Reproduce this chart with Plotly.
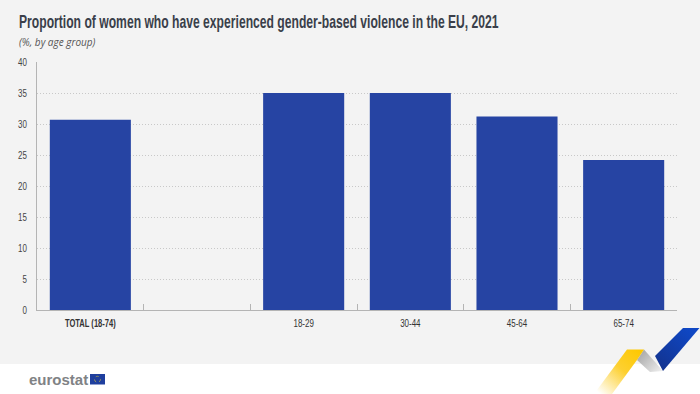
import base64
import plotly.graph_objects as go

categories = ["<b>TOTAL (18-74)</b>", " ", "18-29", "30-44", "45-64", "65-74"]
values = [30.7, None, 35.0, 35.0, 31.2, 24.2]
y_ticks = [0, 5, 10, 15, 20, 25, 30, 35, 40]
title_text = "Proportion of women who have experienced gender-based violence in the EU, 2021"
subtitle_text = "(%, by age group)"

W, H = 700, 394
PL, PR, PT, PB = 37, 677, 62, 310
FONT = "Liberation Sans, sans-serif"

ribbon = f'''<svg xmlns="http://www.w3.org/2000/svg" width="{W}" height="{H}" viewBox="0 0 {W} {H}">
<defs>
<linearGradient id="y" x1="640" y1="350" x2="600" y2="394" gradientUnits="userSpaceOnUse">
<stop offset="0" stop-color="#fdc800"/><stop offset="0.45" stop-color="#fdd030"/><stop offset="1" stop-color="#ffffff"/></linearGradient>
<linearGradient id="g" x1="640" y1="352" x2="662" y2="372" gradientUnits="userSpaceOnUse">
<stop offset="0" stop-color="#a8a8a8"/><stop offset="1" stop-color="#f0f0f0"/></linearGradient>
<linearGradient id="b" x1="690" y1="330" x2="658" y2="368" gradientUnits="userSpaceOnUse">
<stop offset="0" stop-color="#0f47c4"/><stop offset="1" stop-color="#13338f"/></linearGradient>
</defs>
<polygon points="644,349.5 663,371 650,372 637,360" fill="url(#g)"/>
<polygon points="627,349.5 644,349.5 637,360 612,394 594,394" fill="url(#y)"/>
<polygon points="683,328 699.5,328 663,371 655,356" fill="url(#b)"/>
</svg>'''
ribbon_uri = "data:image/svg+xml;base64," + base64.b64encode(ribbon.encode()).decode()

fig = go.Figure(go.Bar(
    x=categories, y=values, marker=dict(color="#2644a3", line_width=0),
    width=0.76, hoverinfo="x+y",
))


def px(x):
    return (x - PL) / (PR - PL)


def py(y):
    return (PB - y) / (PB - PT)


def rect(x0, y0, x1, y1, color, layer="below"):
    return dict(type="rect", xref="paper", yref="paper", layer=layer,
                x0=px(x0), x1=px(x1), y0=py(y1), y1=py(y0),
                fillcolor=color, line_width=0)


def text(x, y, s, size, color, family=FONT):
    return dict(xref="paper", yref="paper", x=px(x), y=py(y), text=s, showarrow=False,
                xanchor="left", yanchor="middle", align="left",
                font=dict(size=size, color=color, family=family))


fig.update_layout(
    width=W, height=H, autosize=False,
    margin=dict(l=PL, r=W - PR, t=PT, b=H - PB),
    paper_bgcolor="#ffffff", plot_bgcolor="rgba(0,0,0,0)",
    showlegend=False,
    font=dict(family=FONT, color="#444444", size=10),
    xaxis=dict(type="category", categoryorder="array", categoryarray=categories,
               range=[-0.5, 5.5], tickson="boundaries", ticks="inside", ticklen=6, tickwidth=1,
               tickcolor="#b4b4b4", showline=True, linecolor="#b4b4b4", linewidth=1,
               showgrid=False, zeroline=False, tickangle=0, ticklabelstandoff=3,
               tickfont=dict(size=10.5, color="#333333", family=FONT)),
    yaxis=dict(range=[0, 40], tickvals=y_ticks, ticks="", showline=True, linecolor="#b4b4b4",
               linewidth=1, showgrid=True, gridcolor="#c8c8c8", griddash="1px,2px", gridwidth=1,
               zeroline=False, ticklabelstandoff=7,
               tickfont=dict(size=10.5, color="#444444", family=FONT)),
    shapes=[
        rect(0, 0, W, 364, "#f3f3f3"),
        rect(90, 374, 105, 384.5, "#1f3f9e", layer="above"),
        dict(type="circle", xref="paper", yref="paper", layer="above",
             x0=px(94.5), x1=px(100.5), y0=py(382.3), y1=py(376.3),
             fillcolor="rgba(0,0,0,0)", line=dict(color="#b0a850", width=0.8, dash="dot")),
    ],
    images=[dict(source=ribbon_uri, xref="paper", yref="paper", x=px(0), y=py(0),
                 sizex=W / (PR - PL), sizey=H / (PB - PT), xanchor="left", yanchor="top",
                 sizing="stretch", layer="above")],
    annotations=[
        text(17, 22, f"<b>{title_text}</b>", 18, "#3a3f4a"),
        text(17, 42, f"<i>{subtitle_text}</i>", 10, "#555555", family="Open Sans, sans-serif"),
        text(27, 379, "<b>eurostat</b>", 15, "#808285"),
    ],
)

# Body margin off; condensed look for the sans text (no condensed face is installed).
post = """
document.body.style.margin = '0';
function squeeze(el, sx) {
  var x = parseFloat(el.getAttribute('x')) || 0;
  var old = el.getAttribute('transform') || '';
  el.setAttribute('transform', old + ' translate(' + x + ',0) scale(' + sx + ',1) translate(' + (-x) + ',0)');
}
document.querySelectorAll('.xtick text, .ytick text').forEach(function (t) {
  squeeze(t, t.textContent.indexOf('TOTAL') === 0 ? 0.72 : 0.76);
});
document.querySelectorAll('.annotation-text').forEach(function (t) {
  if (t.textContent.indexOf('Proportion') === 0) {
    var w = t.getComputedTextLength();
    var box = t.getBBox();
    var old = t.getAttribute('transform') || '';
    var sx = 480 / w;
    t.setAttribute('transform', old + ' translate(' + box.x + ',0) scale(' + sx + ',1) translate(' + (-box.x) + ',0)');
  }
});
"""
fig.write_html("out.html", post_script=post, config=dict(displayModeBar=False))
